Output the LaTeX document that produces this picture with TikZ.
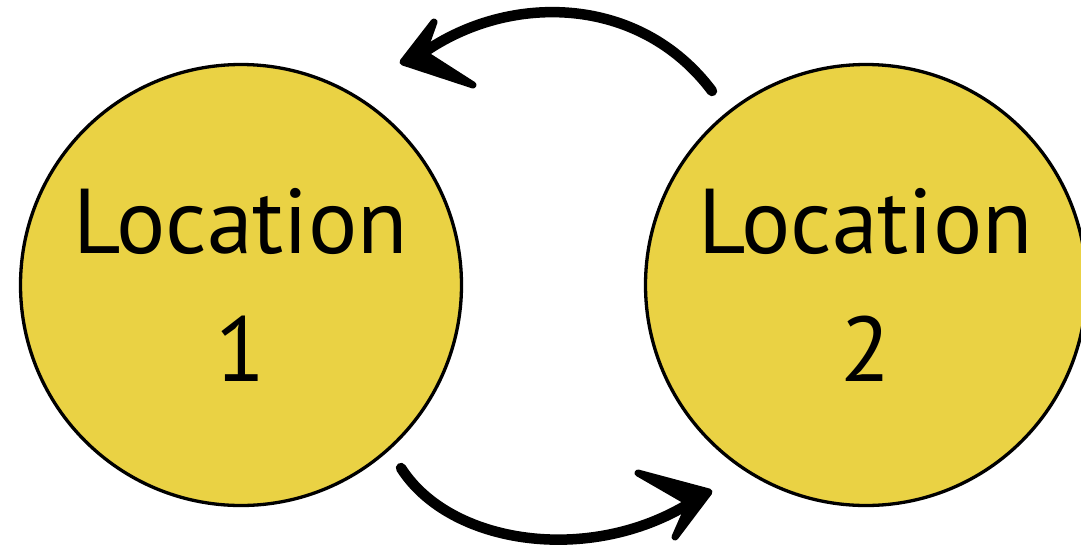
\documentclass[tikz,border=0pt]{standalone}
\usepackage{fontspec}
\setmainfont{PT Sans}
\definecolor{locyellow}{HTML}{EAD244}
\begin{document}
\begin{tikzpicture}[x=1pt,y=-1pt,
  loc/.style={circle,draw=black,line width=3.3pt,fill=locyellow,minimum size=441pt,inner sep=0pt,
    align=center,font=\fontsize{92}{128}\selectfont},
  shaft/.style={line width=10.5pt,line cap=round},
  head/.style={fill=black,draw=black,line width=7pt,line join=round}]
\useasboundingbox (0,0) rectangle (1081,550);
\node[loc] (l1) at (241,285) {Location\\1};
\node[loc] (l2) at (866,285) {Location\\2};
% top arrow: from Location 2 to Location 1
\coordinate (t1s) at (712,91);
\coordinate (t1e) at (403,62);
\coordinate (t1a) at (434,22);
\coordinate (t1b) at (473,85);
\coordinate (t1n) at (423,53);
\draw[shaft] (t1s) .. controls (640,-5) and (510,-8) .. (t1n);
\path[head] (t1a) -- (t1e) -- (t1b) -- (t1n) -- cycle;
% bottom arrow: from Location 1 to Location 2
\coordinate (b1s) at (401,468);
\coordinate (b1e) at (709,492);
\coordinate (b1a) at (638,473);
\coordinate (b1b) at (675,537);
\coordinate (b1n) at (690,503);
\draw[shaft] (b1s) .. controls (450,545) and (590,565) .. (b1n);
\path[head] (b1a) -- (b1e) -- (b1b) -- (b1n) -- cycle;
\end{tikzpicture}
\end{document}
